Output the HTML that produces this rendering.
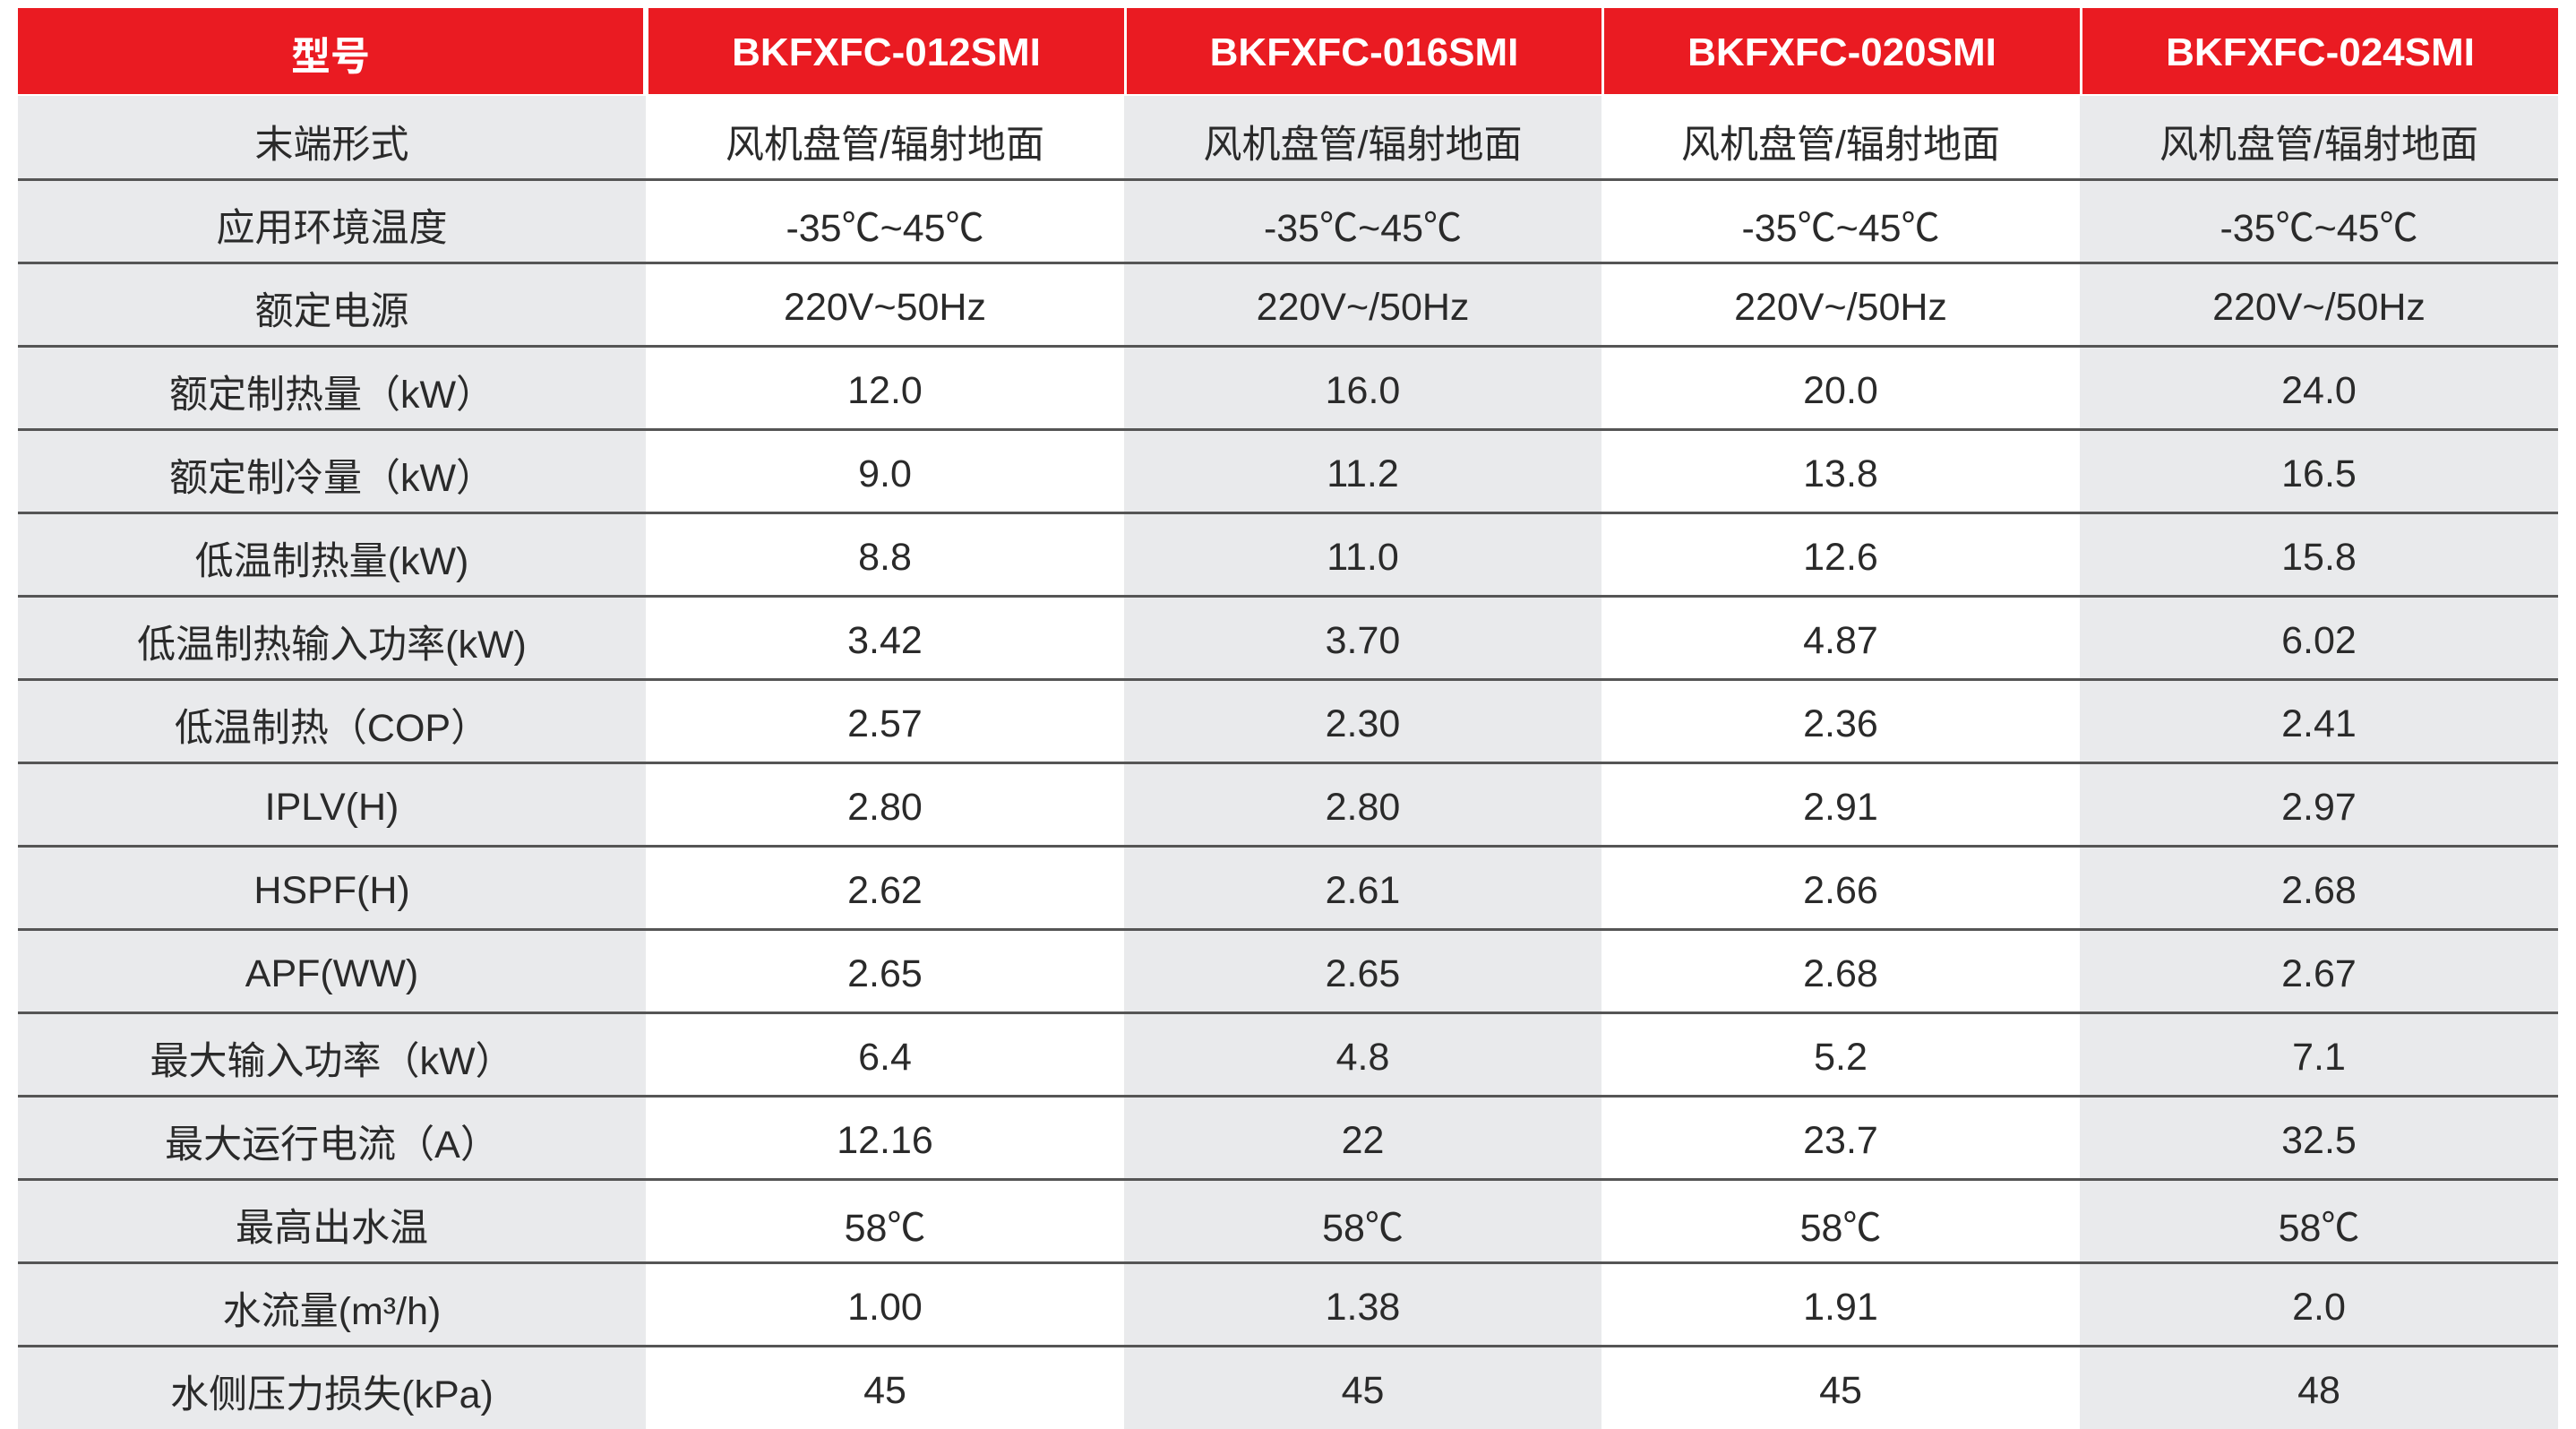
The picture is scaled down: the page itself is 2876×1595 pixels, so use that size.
<!DOCTYPE html>
<html><head><meta charset="utf-8"><style>
body{margin:0;width:2876px;height:1594px;background:#fff;position:relative;overflow:hidden;font-family:"Liberation Sans","Noto Sans CJK SC",sans-serif;}
.c{position:absolute;display:flex;align-items:center;justify-content:center;color:#2a2a2a;font-size:43px;padding-top:8px;box-sizing:border-box;}
.h{background:#ea1b22;color:#fff;font-weight:bold;font-size:44px;padding-top:4px;}
.g{background:#e9eaec;}
.l{position:absolute;height:3px;background:#555;left:20px;width:2836px;}
</style></head><body>
<div id="t"></div>
<script>
const xs=[20,721,1255,1788,2322,2856];
const H=["型号","BKFXFC-012SMI","BKFXFC-016SMI","BKFXFC-020SMI","BKFXFC-024SMI"];
const R=[
["末端形式","风机盘管/辐射地面","风机盘管/辐射地面","风机盘管/辐射地面","风机盘管/辐射地面"],
["应用环境温度","-35℃~45℃","-35℃~45℃","-35℃~45℃","-35℃~45℃"],
["额定电源","220V~50Hz","220V~/50Hz","220V~/50Hz","220V~/50Hz"],
["额定制热量（kW）","12.0","16.0","20.0","24.0"],
["额定制冷量（kW）","9.0","11.2","13.8","16.5"],
["低温制热量(kW)","8.8","11.0","12.6","15.8"],
["低温制热输入功率(kW)","3.42","3.70","4.87","6.02"],
["低温制热（COP）","2.57","2.30","2.36","2.41"],
["IPLV(H)","2.80","2.80","2.91","2.97"],
["HSPF(H)","2.62","2.61","2.66","2.68"],
["APF(WW)","2.65","2.65","2.68","2.67"],
["最大输入功率（kW）","6.4","4.8","5.2","7.1"],
["最大运行电流（A）","12.16","22","23.7","32.5"],
["最高出水温","58℃","58℃","58℃","58℃"],
["水流量(m³/h)","1.00","1.38","1.91","2.0"],
["水侧压力损失(kPa)","45","45","45","48"]];
let s="";
for(let j=0;j<5;j++){s+=`<div class="c h" style="left:${xs[j]+(j?3:0)}px;top:9px;width:${xs[j+1]-xs[j]-3}px;height:96px">${H[j]}</div>`;}
for(let i=0;i<16;i++){const y=107+i*93;for(let j=0;j<5;j++){const g=(j%2==0)?" g":"";s+=`<div class="c${g}" style="left:${xs[j]}px;top:${y}px;width:${xs[j+1]-xs[j]}px;height:93px">${R[i][j]}</div>`;}
if(i>0)s+=`<div class="l" style="top:${y-1}px"></div>`;}
document.getElementById("t").innerHTML=s;
</script>
</body></html>
